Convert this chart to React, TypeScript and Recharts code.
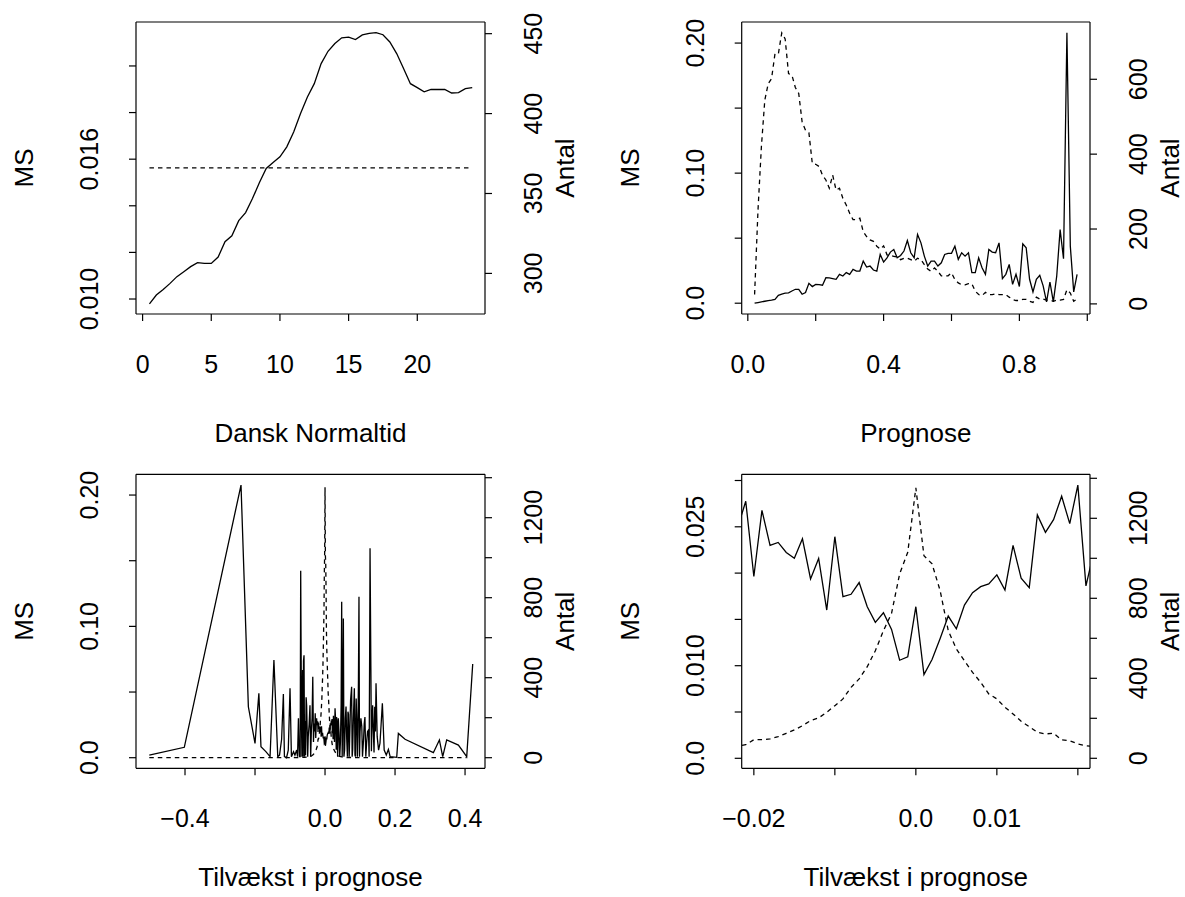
import { ComposedChart, Line, XAxis, YAxis, ReferenceLine } from 'recharts'

const FONT = '"Liberation Sans", Arial, Helvetica, sans-serif'
const TICK_FONT = 25
const TITLE_FONT = 26

// --- Dansk Normaltid (hour of day) ---
const hours = [
  0.5, 1, 1.5, 2, 2.5, 3, 3.5, 4, 4.5, 5, 5.5, 6, 6.5, 7, 7.5, 8, 8.5, 9, 9.5, 10, 10.5, 11, 11.5, 12,
  12.5, 13, 13.5, 14, 14.5, 15, 15.5, 16, 16.5, 17, 17.5, 18, 18.5, 19, 19.5, 20, 20.5, 21, 21.5, 22,
  22.5, 23, 23.5, 24,
]
const msHour = [
  0.00979, 0.01017, 0.01041, 0.01067, 0.01096, 0.01117, 0.01139, 0.01156, 0.01153, 0.01153, 0.0118,
  0.01246, 0.01271, 0.01336, 0.01371, 0.01431, 0.01499, 0.0156, 0.01586, 0.0161, 0.01653, 0.01717,
  0.01796, 0.01867, 0.01924, 0.0201, 0.02063, 0.02096, 0.02121, 0.02124, 0.02113, 0.02133, 0.0214,
  0.02143, 0.02134, 0.02103, 0.02053, 0.01989, 0.01924, 0.01907, 0.01889, 0.01899, 0.01899, 0.01899,
  0.01884, 0.01886, 0.01903, 0.01907,
]
const antalHour = [
  366, 366, 366, 366, 366, 366, 366, 366, 366, 366, 366, 366, 366, 366, 366, 366, 366, 366, 366, 366,
  366, 366, 366, 366, 366, 366, 366, 366, 366, 366, 366, 366, 366, 366, 366, 366, 366, 366, 366, 366,
  366, 366, 366, 366, 366, 366, 366, 366,
]

// --- Prognose ---
const prognose = [
  0.02, 0.03, 0.04, 0.05, 0.06, 0.07, 0.08, 0.09, 0.1, 0.11, 0.12, 0.13, 0.14, 0.15, 0.16, 0.17, 0.18,
  0.19, 0.2, 0.21, 0.22, 0.23, 0.24, 0.25, 0.26, 0.27, 0.28, 0.29, 0.3, 0.31, 0.32, 0.33, 0.34, 0.35,
  0.36, 0.37, 0.38, 0.39, 0.4, 0.41, 0.42, 0.43, 0.44, 0.45, 0.46, 0.47, 0.48, 0.49, 0.5, 0.51, 0.52,
  0.53, 0.54, 0.55, 0.56, 0.57, 0.58, 0.59, 0.6, 0.61, 0.62, 0.63, 0.64, 0.65, 0.66, 0.67, 0.68, 0.69,
  0.7, 0.71, 0.72, 0.73, 0.74, 0.75, 0.76, 0.77, 0.78, 0.79, 0.8, 0.81, 0.82, 0.83, 0.84, 0.85, 0.86,
  0.87, 0.88, 0.89, 0.9, 0.91, 0.92, 0.93, 0.94, 0.95, 0.96, 0.97,
]
const msPrognose = [
  0.0, 0.0005, 0.001, 0.0015, 0.002, 0.0023, 0.003, 0.006, 0.007, 0.0077, 0.008, 0.0094, 0.0107,
  0.0107, 0.0069, 0.0082, 0.0153, 0.0128, 0.0145, 0.0143, 0.0138, 0.0196, 0.0194, 0.0189, 0.0184,
  0.0222, 0.0209, 0.0235, 0.0222, 0.026, 0.0247, 0.0247, 0.0324, 0.0278, 0.0286, 0.0255, 0.0247,
  0.0375, 0.0316, 0.0349, 0.0393, 0.0413, 0.0349, 0.0367, 0.0401, 0.0482, 0.0388, 0.0349, 0.0528,
  0.0464, 0.0362, 0.0286, 0.0324, 0.0324, 0.0286, 0.0311, 0.0375, 0.0383, 0.0383, 0.0439, 0.0337,
  0.0388, 0.0362, 0.0388, 0.0235, 0.0235, 0.0349, 0.0273, 0.0222, 0.0413, 0.0393, 0.0388, 0.0464,
  0.0189, 0.0222, 0.0298, 0.0145, 0.0222, 0.0128, 0.0457, 0.0426, 0.0184, 0.0087, 0.0184, 0.0214,
  0.0133, 0.001, 0.0163, 0.001, 0.0209, 0.0566, 0.0342, 0.2079, 0.0439, 0.0087, 0.0222,
]
const antalPrognose = [
  25, 250, 420, 544, 588, 602, 668, 668, 724, 708, 615, 611, 578, 562, 486, 464, 457, 375, 373, 367,
  344, 331, 309, 344, 304, 309, 282, 264, 242, 225, 225, 229, 193, 180, 171, 167, 154, 146, 155, 131,
  129, 127, 125, 118, 122, 122, 118, 114, 122, 118, 105, 93, 87, 96, 87, 75, 75, 75, 83, 65, 56, 51,
  51, 54, 54, 34, 25, 22, 31, 25, 25, 27, 25, 25, 25, 18, 12, 9, 9, 12, 12, 7, 4, 18, 13, 13, 10, 10,
  7, 10, 10, 12, 38, 29, 7, 13,
]

// --- Tilvækst i prognose: negative tail, centre (step 0.001), positive tail ---
const tvLeftX = [
  -0.502, -0.402, -0.24, -0.219, -0.2, -0.189, -0.183, -0.169, -0.157, -0.146,
  -0.135, -0.13, -0.124, -0.119, -0.116, -0.11, -0.105, -0.1, -0.096, -0.09,
  -0.086, -0.081, -0.0785, -0.076, -0.0745, -0.073, -0.071, -0.0695, -0.0685, -0.067,
  -0.066, -0.064, -0.0625, -0.0615, -0.06, -0.0585, -0.057, -0.0555, -0.054, -0.0525,
  -0.051, -0.0495, -0.048, -0.0455, -0.043, -0.041, -0.039, -0.037, -0.035, -0.033,
  -0.031, -0.0295, -0.028, -0.0265, -0.025, -0.024, -0.023,
]
const tvLeftMS = [
  0.002, 0.0079, 0.2076, 0.0388, 0.0109, 0.049, 0.0084, 0.0046, 0.0008, 0.0744,
  0.0008, 0.002, 0.014, 0.0485, 0.0008, 0.0, 0.0058, 0.0528, 0.0008, 0.0046,
  0.002, 0.0058, 0.0008, 0.03, 0.012, 0.0008, 0.0008, 0.1424, 0.09, 0.021,
  0.0008, 0.0667, 0.0008, 0.0737, 0.078, 0.0008, 0.028, 0.0018, 0.046, 0.04,
  0.021, 0.0008, 0.016, 0.025, 0.04, 0.0008, 0.021, 0.03, 0.0617, 0.012,
  0.026, 0.02, 0.0338, 0.015, 0.026, 0.03, 0.026,
]
const tvLeftAntal = [
  0, 0, 0, 0, 0, 0, 0, 0, 0, 0,
  0, 0, 0, 0, 0, 0, 0, 0, 0, 0,
  0, 0, 0, 1, 1, 1, 1, 1, 1, 1,
  1, 2, 2, 2, 2, 2, 2, 3, 3, 3,
  3, 3, 4, 5, 6, 7, 9, 11, 14, 17,
  22, 26, 30, 36, 42, 47, 52,
]

const tvCenterX = [
  -0.022, -0.021, -0.02, -0.019, -0.018, -0.017, -0.016, -0.015, -0.014, -0.013, -0.012, -0.011,
  -0.01, -0.009, -0.008, -0.007, -0.006, -0.005, -0.004, -0.003, -0.002, -0.001, 0, 0.001, 0.002,
  0.003, 0.004, 0.005, 0.006, 0.007, 0.008, 0.009, 0.01, 0.011, 0.012, 0.013, 0.014, 0.015, 0.016,
  0.017, 0.018, 0.019, 0.02, 0.021, 0.022,
]
const tvCenterMS = [
  0.0249, 0.02776, 0.01963, 0.02678, 0.02299, 0.02331, 0.02223, 0.02161, 0.02371, 0.01937, 0.02158,
  0.01601, 0.02393, 0.01746, 0.01771, 0.01898, 0.01637, 0.01468, 0.01572, 0.01392, 0.01059, 0.01095,
  0.01637, 0.00904, 0.01066, 0.01294, 0.01536, 0.01399, 0.01655, 0.01789, 0.01854, 0.01883, 0.01981,
  0.01818, 0.02299, 0.01945, 0.01843, 0.02628, 0.0244, 0.02577, 0.0283, 0.02534, 0.0295, 0.01862,
  0.0224,
]
const tvCenterAntal = [
  60, 68, 93, 93, 97, 108, 125, 142, 163, 188, 202, 230, 263, 297, 355, 397, 458, 538, 638, 725, 922,
  1030, 1352, 1013, 972, 838, 638, 547, 488, 430, 380, 322, 297, 255, 222, 185, 158, 130, 122, 125, 92,
  88, 72, 63, 58,
]

const tvRightX = [
  0.023, 0.024, 0.025, 0.026, 0.027, 0.0286, 0.03, 0.031, 0.032, 0.033,
  0.0345, 0.036, 0.038, 0.04, 0.042, 0.044, 0.046, 0.0476, 0.049, 0.05,
  0.0515, 0.0524, 0.054, 0.056, 0.058, 0.06, 0.062, 0.064, 0.0655, 0.067,
  0.069, 0.071, 0.073, 0.076, 0.0775, 0.079, 0.081, 0.0838, 0.0855, 0.087,
  0.089, 0.091, 0.0925, 0.094, 0.0955, 0.097, 0.0985, 0.1, 0.1025, 0.105,
  0.107, 0.11, 0.112, 0.114, 0.1165, 0.119, 0.1215, 0.124, 0.126, 0.1275,
  0.1286, 0.131, 0.1325, 0.134, 0.136, 0.138, 0.14, 0.142, 0.144, 0.1457,
  0.149, 0.153, 0.157, 0.1638, 0.169, 0.175, 0.181, 0.186, 0.2048, 0.2095,
  0.2286, 0.3095, 0.3267, 0.3362, 0.3476, 0.381, 0.4048, 0.4219,
]
const tvRightMS = [
  0.014, 0.032, 0.024, 0.02, 0.012, 0.0376, 0.03, 0.021, 0.006, 0.031,
  0.027, 0.0008, 0.03, 0.019, 0.0008, 0.012, 0.04, 0.1188, 0.0008, 0.021,
  0.07, 0.106, 0.0008, 0.006, 0.03, 0.039, 0.014, 0.0008, 0.035, 0.033,
  0.0008, 0.021, 0.044, 0.054, 0.0008, 0.006, 0.03, 0.0528, 0.002, 0.0008,
  0.045, 0.026, 0.0008, 0.018, 0.06, 0.1226, 0.0008, 0.02, 0.03, 0.024,
  0.0008, 0.0135, 0.026, 0.031, 0.0008, 0.012, 0.02, 0.021, 0.0008, 0.08,
  0.1594, 0.068, 0.005, 0.0236, 0.04, 0.021, 0.004, 0.0388, 0.02, 0.0566,
  0.016, 0.0058, 0.011, 0.0414, 0.0058, 0.002, 0.0063, 0.0008, 0.0003, 0.0185,
  0.014, 0.0038, 0.0135, 0.0008, 0.0135, 0.0096, 0.0008, 0.0713,
]
const tvRightAntal: (number | null)[] = [
  52, 45, 42, 38, 34, 30, 25, 22, 20, 17,
  14, 12, 10, 8, 7, 6, 5, 4, 4, 3,
  3, 3, 2, 2, 2, 2, 1, 1, 1, 1,
  1, 1, 1, 1, 0, 0, 0, 0, 0, 0,
  0, 0, 0, 0, 0, 0, 0, 0, 0, 0,
  0, 0, 0, 0, 0, 0, 0, 0, 0, 0,
  0, 0, 0, 0, 0, 0, 0, 0, 0, 0,
  0, 0, 0, 0, 0, 0, 0, 0, 0, 0,
  0, 0, 0, 0, 0, 0, 0, null,
]

type Row = { x: number; ms: number; antal: number | null }
type Tick = [number, string | null]

const rows = (xs: number[], ms: number[], antal: (number | null)[]): Row[] =>
  xs.map((x, i) => ({ x, ms: ms[i], antal: antal[i] ?? null }))

const hourRows = rows(hours, msHour, antalHour)
const prognoseRows = rows(prognose, msPrognose, antalPrognose)
const tilvaekstRows = [
  ...rows(tvLeftX, tvLeftMS, tvLeftAntal),
  ...rows(tvCenterX, tvCenterMS, tvCenterAntal),
  ...rows(tvRightX, tvRightMS, tvRightAntal),
]

interface Panel {
  key: string
  left: number
  top: number
  width: number
  height: number
  box: { l: number; r: number; t: number; b: number }
  xDomain: [number, number]
  msDomain: [number, number]
  antalDomain: [number, number]
  xTicks: Tick[]
  msTicks: Tick[]
  antalTicks: Tick[]
  data: Row[]
  xTitle: string
  titleY: number
}

const PANELS: Panel[] = [
  {
    key: 'time',
    left: 0, top: 0, width: 592, height: 448,
    box: { l: 136, r: 485, t: 22, b: 314 },
    xDomain: [-0.48, 24.93],
    msDomain: [0.009357, 0.021886],
    antalDomain: [274.6, 457.3],
    xTicks: [[0, '0'], [5, '5'], [10, '10'], [15, '15'], [20, '20']],
    msTicks: [[0.01, '0.010'], [0.012, null], [0.014, null], [0.016, '0.016'], [0.018, null], [0.02, null]],
    antalTicks: [[300, '300'], [350, '350'], [400, '400'], [450, '450']],
    data: hourRows,
    xTitle: 'Dansk Normaltid',
    titleY: 433,
  },
  {
    key: 'prognose',
    left: 592, top: 0, width: 593, height: 448,
    box: { l: 741.7, r: 1090, t: 22, b: 314 },
    xDomain: [-0.018, 1.008],
    msDomain: [-0.0083, 0.2162],
    antalDomain: [-27, 753],
    xTicks: [[0, '0.0'], [0.2, null], [0.4, '0.4'], [0.6, null], [0.8, '0.8'], [1, null]],
    msTicks: [[0, '0.0'], [0.05, null], [0.1, '0.10'], [0.15, null], [0.2, '0.20']],
    antalTicks: [[0, '0'], [200, '200'], [400, '400'], [600, '600']],
    data: prognoseRows,
    xTitle: 'Prognose',
    titleY: 433,
  },
  {
    key: 'tilvaekst',
    left: 0, top: 448, width: 592, height: 449,
    box: { l: 136, r: 485, t: 474.3, b: 768.3 },
    xDomain: [-0.54, 0.457],
    msDomain: [-0.00807, 0.2158],
    antalDomain: [-53, 1417],
    xTicks: [[-0.4, '\u22120.4'], [-0.2, null], [0, '0.0'], [0.2, '0.2'], [0.4, '0.4']],
    msTicks: [[0, '0.0'], [0.05, null], [0.1, '0.10'], [0.15, null], [0.2, '0.20']],
    antalTicks: [[0, '0'], [200, null], [400, '400'], [600, null], [800, '800'], [1000, null], [1200, '1200'], [1400, null]],
    data: tilvaekstRows,
    xTitle: 'Tilvækst i prognose',
    titleY: 877,
  },
  {
    key: 'tilvaekst-zoom',
    left: 592, top: 448, width: 593, height: 449,
    box: { l: 741.7, r: 1090, t: 474.3, b: 768.3 },
    xDomain: [-0.0215, 0.0215],
    msDomain: [-0.00108, 0.03067],
    antalDomain: [-50, 1420],
    xTicks: [[-0.02, '\u22120.02'], [-0.01, null], [0, '0.0'], [0.01, '0.01'], [0.02, null]],
    msTicks: [[0, '0.0'], [0.005, null], [0.01, '0.010'], [0.015, null], [0.02, null], [0.025, '0.025'], [0.03, null]],
    antalTicks: [[0, '0'], [200, null], [400, '400'], [600, null], [800, '800'], [1000, null], [1200, '1200'], [1400, null]],
    data: tilvaekstRows,
    xTitle: 'Tilvækst i prognose',
    titleY: 877,
  },
]

const findLabel = (ticks: Tick[], v: number) => {
  const hit = ticks.find(t => Math.abs(t[0] - v) < 1e-9)
  return hit ? hit[1] : null
}

const Y_W = 40
const X_H = 30

const xTick = (ticks: Tick[], y: number) => (props: any) => {
  const label = findLabel(ticks, props.payload.value)
  if (!label) return <g />
  return (
    <text x={props.x} y={y} textAnchor="middle" dominantBaseline="central" fontSize={TICK_FONT} fontFamily={FONT} fill="#000">
      {label}
    </text>
  )
}

const yTick = (ticks: Tick[], x: number) => (props: any) => {
  const label = findLabel(ticks, props.payload.value)
  if (!label) return <g />
  return (
    <text
      x={x}
      y={props.y}
      transform={`rotate(-90 ${x} ${props.y})`}
      textAnchor="middle"
      dominantBaseline="central"
      fontSize={TICK_FONT}
      fontFamily={FONT}
      fill="#000"
    >
      {label}
    </text>
  )
}

const PanelChart = ({ p }: { p: Panel }) => {
  const bl = p.box.l - p.left
  const br = p.box.r - p.left
  const bb = p.box.b - p.top
  const margin = {
    left: bl - Y_W,
    right: p.width - br - Y_W,
    top: p.box.t - p.top,
    bottom: p.height - bb - X_H,
  }
  const axisStroke = { stroke: '#000', strokeWidth: 1.2 }
  return (
    <div style={{ position: 'absolute', left: p.left, top: p.top }}>
      <ComposedChart width={p.width} height={p.height} data={p.data} margin={margin}>
        <XAxis
          dataKey="x"
          type="number"
          domain={p.xDomain}
          allowDataOverflow
          ticks={p.xTicks.map(t => t[0])}
          interval={0}
          height={X_H}
          tickSize={7}
          tickLine={axisStroke}
          axisLine={axisStroke}
          tick={xTick(p.xTicks, bb + 50)}
        />
        <YAxis
          yAxisId="ms"
          orientation="left"
          type="number"
          domain={p.msDomain}
          allowDataOverflow
          ticks={p.msTicks.map(t => t[0])}
          interval={0}
          width={Y_W}
          tickSize={7}
          tickLine={axisStroke}
          axisLine={axisStroke}
          tick={yTick(p.msTicks, bl - 47)}
        />
        <YAxis
          yAxisId="antal"
          orientation="right"
          type="number"
          domain={p.antalDomain}
          allowDataOverflow
          ticks={p.antalTicks.map(t => t[0])}
          interval={0}
          width={Y_W}
          tickSize={7}
          tickLine={axisStroke}
          axisLine={axisStroke}
          tick={yTick(p.antalTicks, br + 48)}
        />
        <ReferenceLine yAxisId="ms" y={p.msDomain[1]} stroke="#000" strokeWidth={1.2} />
        <Line
          yAxisId="ms"
          dataKey="ms"
          type="linear"
          stroke="#000"
          strokeWidth={1.3}
          dot={false}
          activeDot={false}
          isAnimationActive={false}
        />
        <Line
          yAxisId="antal"
          dataKey="antal"
          type="linear"
          stroke="#000"
          strokeWidth={1.3}
          strokeDasharray="4.5 4"
          dot={false}
          activeDot={false}
          connectNulls={false}
          isAnimationActive={false}
        />
      </ComposedChart>
    </div>
  )
}

const Titles = () => (
  <svg width={1185} height={897} style={{ position: 'absolute', left: 0, top: 0, pointerEvents: 'none' }}>
    {PANELS.map(p => {
      const cy = (p.box.t + p.box.b) / 2
      const msX = p.box.l - 112
      const antalX = p.box.r + 80
      return (
        <g key={p.key} fontFamily={FONT} fontSize={TITLE_FONT} fill="#000">
          <text x={msX} y={cy} transform={`rotate(-90 ${msX} ${cy})`} textAnchor="middle" dominantBaseline="central">
            MS
          </text>
          <text x={antalX} y={cy} transform={`rotate(-90 ${antalX} ${cy})`} textAnchor="middle" dominantBaseline="central">
            Antal
          </text>
          <text x={(p.box.l + p.box.r) / 2} y={p.titleY} textAnchor="middle" dominantBaseline="central">
            {p.xTitle}
          </text>
        </g>
      )
    })}
  </svg>
)

export default function App() {
  return (
    <div style={{ position: 'absolute', left: 0, top: 0, width: 1185, height: 897, background: '#fff', fontFamily: FONT }}>
      {PANELS.map(p => (
        <PanelChart key={p.key} p={p} />
      ))}
      <Titles />
    </div>
  )
}
